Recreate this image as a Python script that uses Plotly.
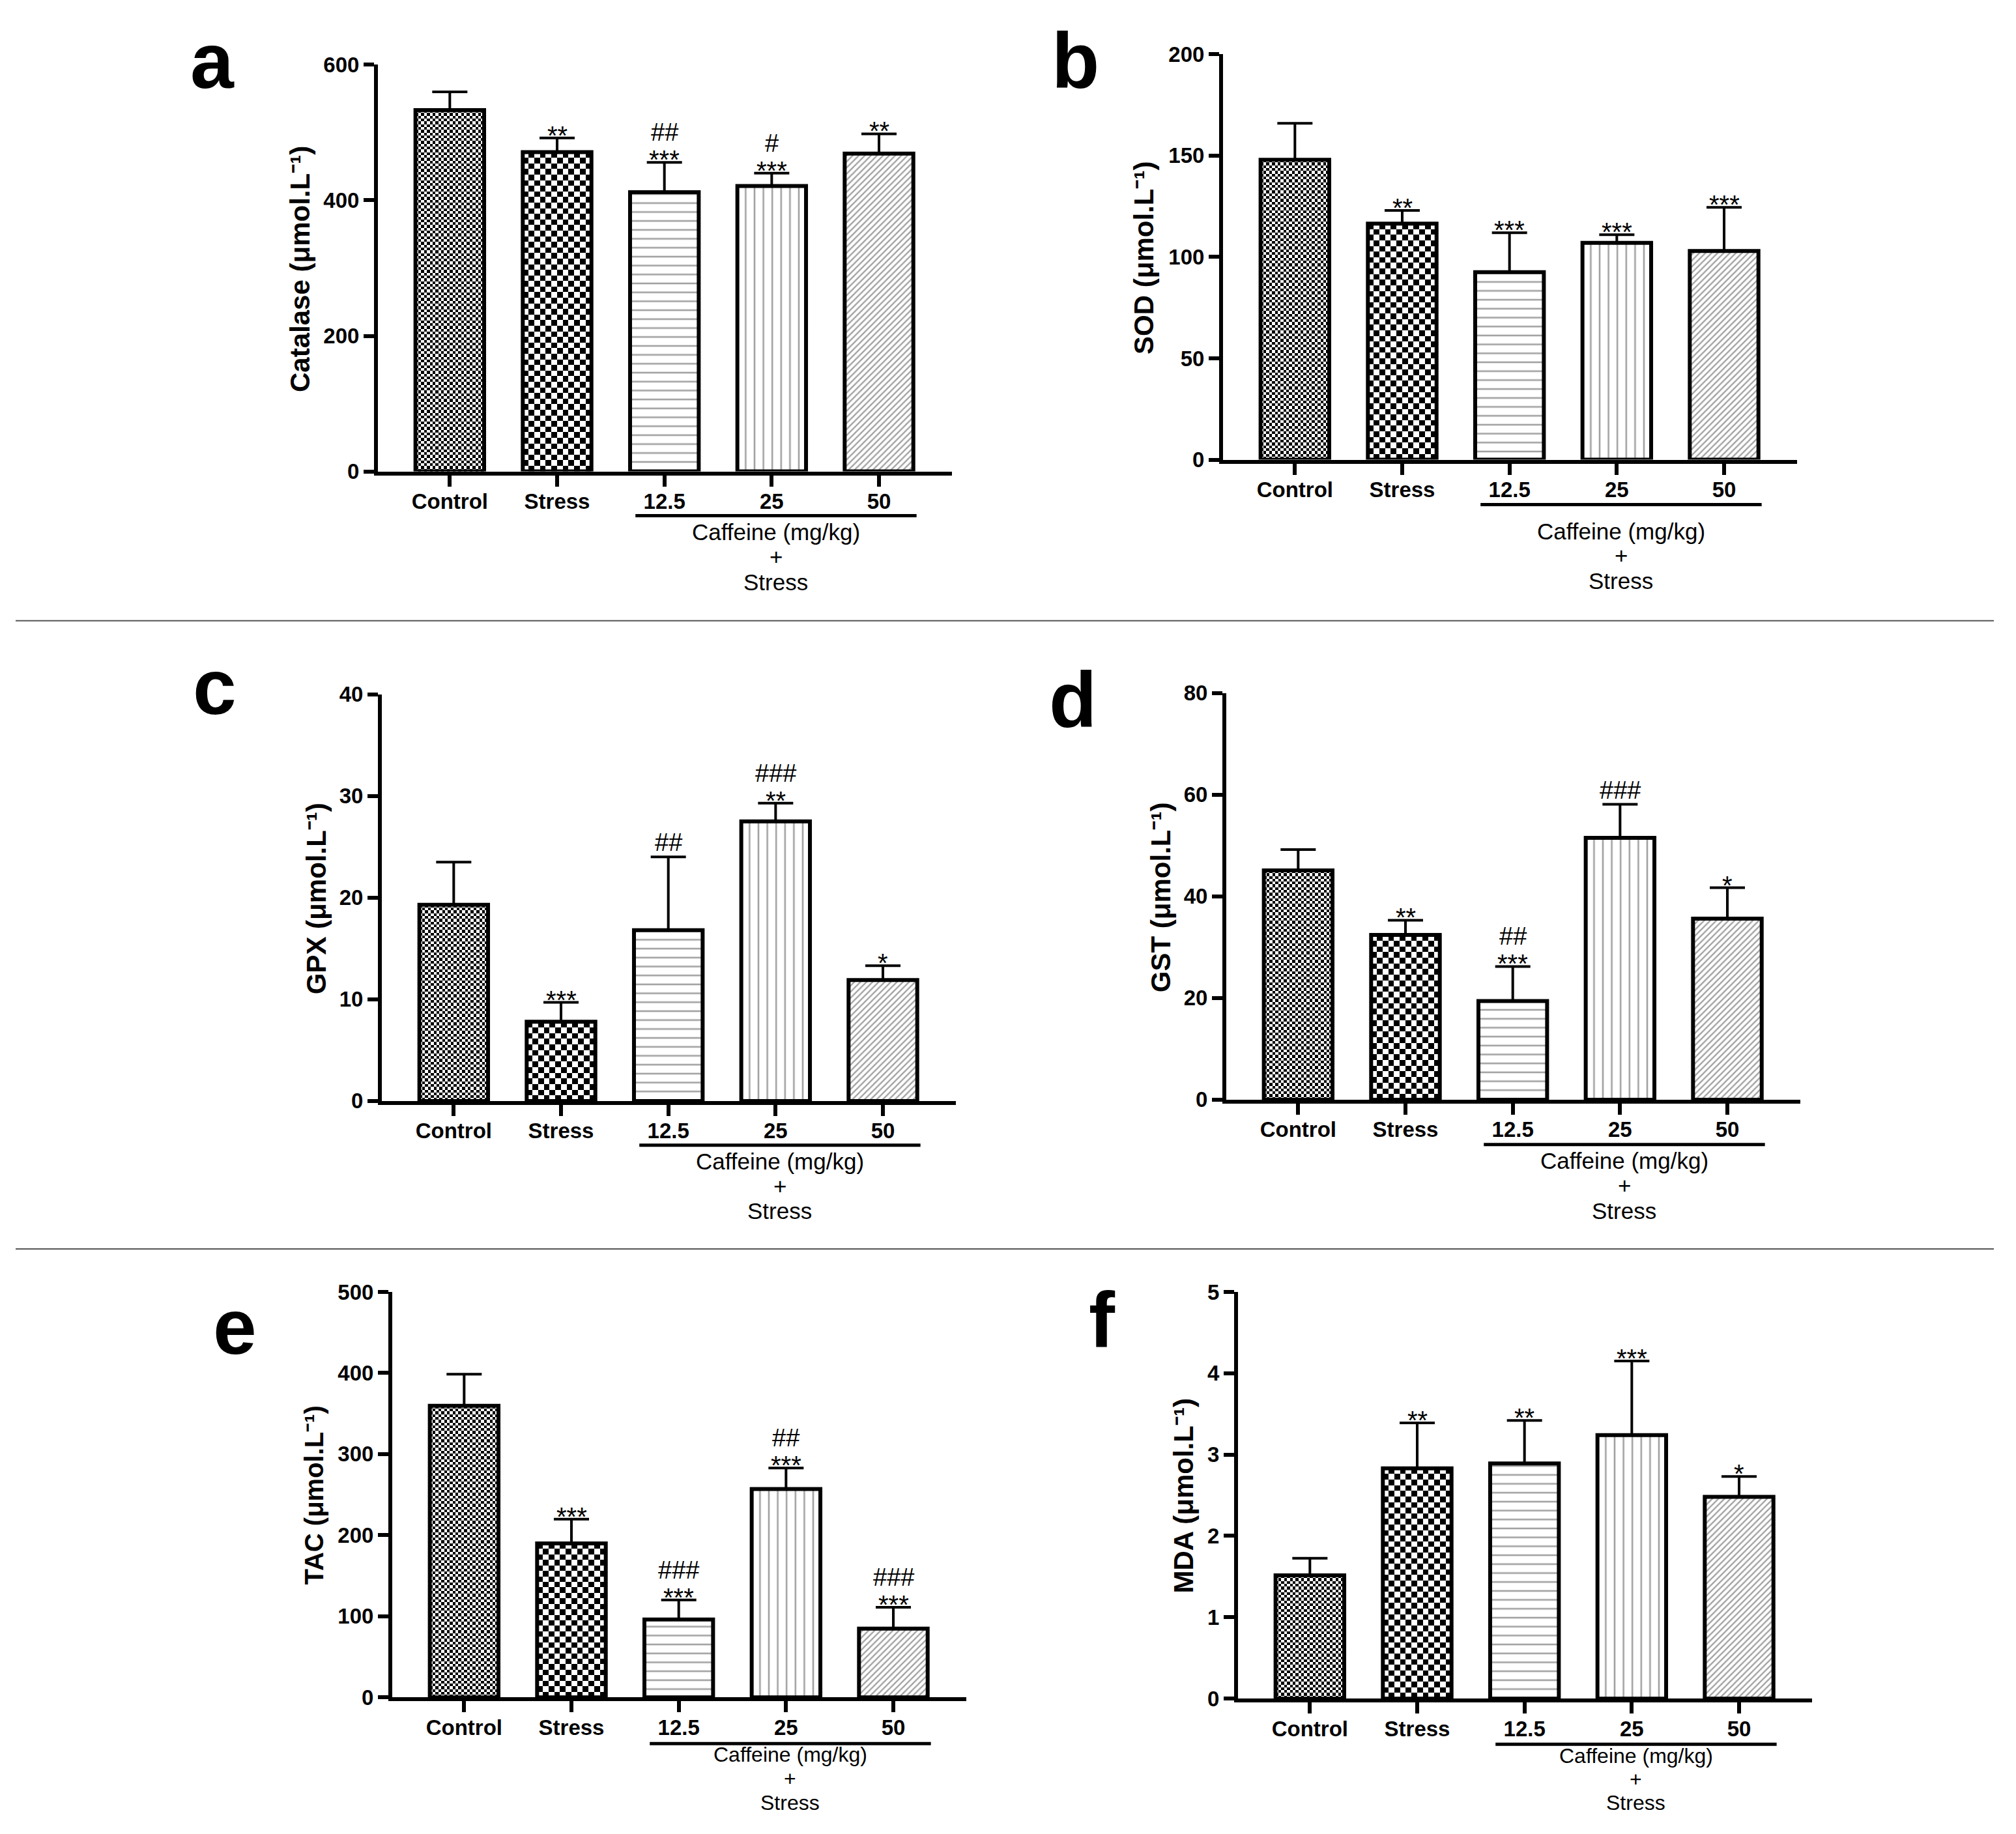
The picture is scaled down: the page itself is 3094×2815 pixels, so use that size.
import plotly.graph_objects as go

# ---------------- data ----------------
categories = ["Control", "Stress", "12.5", "25", "50"]

catalase_mean = [533, 471, 412, 421, 469]
catalase_sd = [27, 21, 44, 19, 29]
catalase_stars = ["", "**", "***", "***", "**"]
catalase_hash = ["", "", "##", "#", ""]

sod_mean = [148, 116.5, 92.5, 107, 103]
sod_sd = [18, 6.5, 19.5, 4, 21.5]
sod_stars = ["", "**", "***", "***", "***"]
sod_hash = ["", "", "", "", ""]

gpx_mean = [19.3, 7.8, 16.8, 27.5, 11.9]
gpx_sd = [4.2, 1.9, 7.2, 1.8, 1.4]
gpx_stars = ["", "***", "", "**", "*"]
gpx_hash = ["", "", "##", "###", ""]

gst_mean = [45.1, 32.4, 19.4, 51.5, 35.6]
gst_sd = [4.1, 2.9, 6.8, 6.6, 6.1]
gst_stars = ["", "**", "***", "", "*"]
gst_hash = ["", "", "##", "###", ""]

tac_mean = [359.6, 189.8, 96, 256.8, 84.7]
tac_sd = [39, 30, 24, 26, 26.3]
tac_stars = ["", "***", "***", "***", "***"]
tac_hash = ["", "", "###", "##", "###"]

mda_mean = [1.515, 2.83, 2.89, 3.24, 2.48]
mda_sd = [0.21, 0.56, 0.53, 0.91, 0.25]
mda_stars = ["", "**", "**", "***", "*"]
mda_hash = ["", "", "", "", ""]

y_names = ["Catalase", "SOD", "GPX", "GST", "TAC", "MDA"]
y_unit = "(μmol.L⁻¹)"
y_max = [600, 200, 40, 80, 500, 5]
y_step = [200, 50, 10, 20, 100, 1]
panel_letters = ["a", "b", "c", "d", "e", "f"]
group_lines = ["Caffeine (mg/kg)", "+", "Stress"]

series = [
    (catalase_mean, catalase_sd, catalase_stars, catalase_hash),
    (sod_mean, sod_sd, sod_stars, sod_hash),
    (gpx_mean, gpx_sd, gpx_stars, gpx_hash),
    (gst_mean, gst_sd, gst_stars, gst_hash),
    (tac_mean, tac_sd, tac_stars, tac_hash),
    (mda_mean, mda_sd, mda_stars, mda_hash),
]

# ---------------- styles / layout ----------------
W0, H0 = 3094, 2815          # reference canvas
OFF = 8                      # page body margin
W, H = W0 - 2 * OFF, H0 - 2 * OFF
SY, DY = 1.0137, -18         # vertical calibration of the photographed page
PANEL_W = 884
X_RANGE = [-0.67, 4.68]
BAR_W = 0.64
LW = 6                       # axis / outline width

pattern_shape = ["", "", "-", "|", "/"]
pattern_size = [10, 10, 13.7, 13.6, 6.6]
pattern_solid = [0.1, 0.1, 0.19, 0.19, 0.36]
bar_fill = ["rgba(0,0,0,0)", "rgba(0,0,0,0)", "white", "white", "white"]
checker_cell = {0: 4.35, 1: 8.7}   # checkerboard square size (px) for Control / Stress

# reference-pixel geometry of each panel
geo = [
    dict(left=577, y0=726, ytop=99, under=791, grp=[816, 854, 893], gs=35, tx=461, ts=42, lx=326, ly=93),
    dict(left=1874, y0=708, ytop=83, under=774, grp=[815, 852, 891], gs=35, tx=1756, ts=42, lx=1650, ly=93),
    dict(left=583, y0=1692, ytop=1065, under=1757, grp=[1782, 1820, 1858], gs=35, tx=485, ts=42, lx=329, ly=1053),
    dict(left=1879, y0=1690, ytop=1063, under=1756, grp=[1781, 1819, 1858], gs=35, tx=1781, ts=42, lx=1646, ly=1073),
    dict(left=599, y0=2607, ytop=1982, under=2675, grp=[2692, 2729, 2766], gs=32, tx=482, ts=40, lx=360, ly=2035),
    dict(left=1897, y0=2609, ytop=1982, under=2676, grp=[2694, 2730, 2766], gs=32, tx=1817, ts=42, lx=1691, ly=2025),
]

FONT = "Liberation Sans, Arial, sans-serif"


def px_x(p):
    return (p - OFF) / W


def spec_y(p):
    return SY * p + DY


def paper_y(s):
    return 1 - (s - OFF) / H


def px_y(p):
    return paper_y(spec_y(p))


fig = go.Figure()
annotations = []
shapes = []
layout = {}
half = LW / 2

for k in range(6):
    g = geo[k]
    mean, sd, stars, hashes = series[k]
    sfx = "" if k == 0 else str(k + 1)
    xref, yref = "x" + sfx, "y" + sfx
    ybot, ytop = spec_y(g["y0"]) - half, spec_y(g["ytop"])
    ppu_y = (ybot - ytop) / y_max[k]
    ppu_x = (PANEL_W - half) / (X_RANGE[1] - X_RANGE[0])

    # checkerboard fills for Control and Stress bars
    for i, cell in checker_cell.items():
        ncol = max(1, int(round(BAR_W * ppu_x / cell)))
        nrow = max(1, int(round(mean[i] * ppu_y / cell)))
        xe = [i - BAR_W / 2 + BAR_W * c / ncol for c in range(ncol + 1)]
        ye = [mean[i] * r / nrow for r in range(nrow + 1)]
        z = [[(r + c) % 2 for c in range(ncol)] for r in range(nrow)]
        fig.add_trace(go.Heatmap(
            x=xe, y=ye, z=z, xaxis=xref, yaxis=yref, zmin=0, zmax=1,
            colorscale=[[0, "white"], [1, "black"]], showscale=False,
            hoverinfo="skip"))

    fig.add_trace(go.Bar(
        x=list(range(len(categories))), y=mean, width=BAR_W,
        xaxis=xref, yaxis=yref,
        marker=dict(color=bar_fill, line=dict(color="black", width=LW),
                    pattern=dict(shape=pattern_shape, size=pattern_size,
                                 solidity=pattern_solid, fgcolor="black",
                                 bgcolor="white")),
        error_y=dict(type="data", symmetric=False, array=sd,
                     arrayminus=[0] * len(sd), color="black",
                     thickness=4, width=27),
        showlegend=False, hoverinfo="skip",
    ))

    layout["xaxis" + sfx] = dict(
        domain=[px_x(g["left"] + half), px_x(g["left"] + PANEL_W)],
        anchor=yref, range=X_RANGE, tickvals=list(range(len(categories))),
        ticktext=categories, showline=True, linewidth=LW, linecolor="black",
        ticks="outside", ticklen=17, tickwidth=6, tickcolor="black",
        ticklabelstandoff=-5,
        showgrid=False, zeroline=False,
        tickfont=dict(family=FONT, size=33, color="black", weight="bold"),
    )
    layout["yaxis" + sfx] = dict(
        domain=[paper_y(ybot), paper_y(ytop)],
        anchor=xref, range=[0, y_max[k]],
        tickvals=[i * y_step[k] for i in range(int(round(y_max[k] / y_step[k])) + 1)],
        showline=True, linewidth=LW, linecolor="black",
        ticks="outside", ticklen=16, tickwidth=6, tickcolor="black",
        showgrid=False, zeroline=False,
        tickfont=dict(family=FONT, size=33, color="black", weight="bold"),
    )

    # significance marks
    for i in range(len(categories)):
        top = mean[i] + sd[i]
        if stars[i]:
            annotations.append(dict(x=i, y=top, xref=xref, yref=yref, text=stars[i],
                                    showarrow=False, yanchor="bottom", xanchor="center",
                                    yshift=-20, font=dict(family=FONT, size=40, color="black")))
        if hashes[i]:
            annotations.append(dict(x=i, y=top, xref=xref, yref=yref, text=hashes[i],
                                    showarrow=False, yanchor="bottom", xanchor="center",
                                    yshift=23 if stars[i] else -1,
                                    font=dict(family=FONT, size=38, color="black")))

    # y-axis title
    annotations.append(dict(
        x=px_x(g["tx"]), y=px_y((g["y0"] + g["ytop"]) / 2), xref="paper", yref="paper",
        text="%s %s" % (y_names[k], y_unit), textangle=-90,
        showarrow=False, xanchor="center", yanchor="middle",
        font=dict(family=FONT, size=g["ts"], color="black", weight="bold")))

    # panel letter
    annotations.append(dict(
        x=px_x(g["lx"]), y=px_y(g["ly"]), xref="paper", yref="paper",
        text=panel_letters[k], showarrow=False,
        xanchor="center", yanchor="middle",
        font=dict(family=FONT, size=120, color="black", weight="bold")))

    # group bracket under 12.5 .. 50 and its label
    shapes.append(dict(type="line", xref=xref, yref="paper", x0=1.73, x1=4.35,
                       y0=px_y(g["under"]), y1=px_y(g["under"]),
                       line=dict(color="black", width=5)))
    for j, txt in enumerate(group_lines):
        annotations.append(dict(
            x=3.04, y=px_y(g["grp"][j]), xref=xref, yref="paper", text=txt,
            showarrow=False, xanchor="center", yanchor="middle",
            font=dict(family=FONT, size=g["gs"], color="black")))

# separators between rows
for yy in [952, 1916]:
    shapes.append(dict(type="line", xref="paper", yref="paper",
                       x0=px_x(24), x1=px_x(3060), y0=px_y(yy), y1=px_y(yy),
                       line=dict(color="#555555", width=2)))

fig.update_layout(
    width=W, height=H, margin=dict(l=0, r=0, t=0, b=0),
    paper_bgcolor="white", plot_bgcolor="white",
    showlegend=False, annotations=annotations, shapes=shapes,
    **layout,
)

fig.write_html("out.html")
